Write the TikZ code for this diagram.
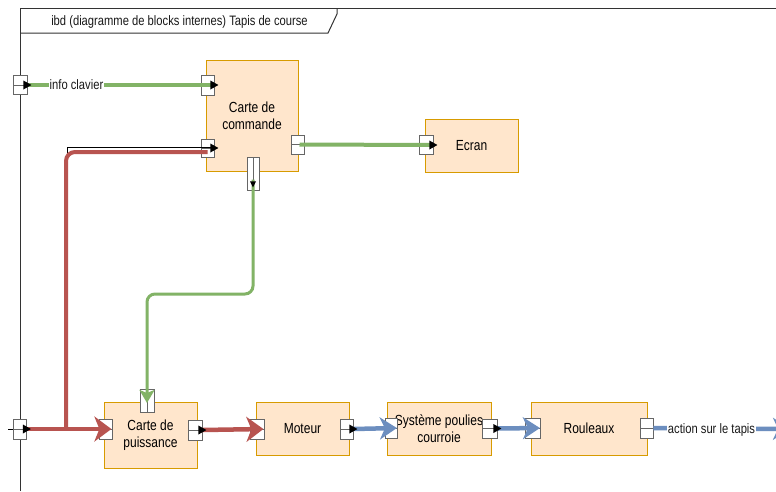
\documentclass[tikz,border=0pt]{standalone}
\usepackage{fontspec}
\setmainfont{Liberation Sans}
\usetikzlibrary{arrows.meta}
\definecolor{blkfill}{HTML}{FFE6CC}
\definecolor{blkline}{HTML}{D79B00}
\definecolor{grn}{HTML}{82B366}
\definecolor{rd}{HTML}{B85450}
\definecolor{blu}{HTML}{6C8EBF}
\definecolor{frm}{HTML}{333333}
\newcommand{\tall}[1]{\scalebox{1}[1.22]{#1}}
\begin{document}
\begin{tikzpicture}[x=1pt,y=-1pt,
  blk/.style={draw=blkline, fill=blkfill, line width=1pt, align=center, inner sep=0pt,
    font=\fontsize{12}{17.5}\selectfont, text=black},
  port/.style={draw=black!60, fill=white, line width=0.8pt, minimum width=13pt, minimum height=20pt, inner sep=0pt,
    path picture={\draw[black!60, line width=0.8pt] (path picture bounding box.west) -- (path picture bounding box.east);}},
  vport/.style={draw=black!60, fill=white, line width=0.8pt, minimum width=12pt, minimum height=33pt, inner sep=0pt,
    path picture={\draw[black!60, line width=0.8pt] (path picture bounding box.north) -- (path picture bounding box.south);}},
  lbl/.style={fill=white, inner sep=0.5pt, font=\fontsize{11.2}{13}\selectfont, text=black!90},
  gline/.style={draw=grn, line width=3.5pt},
  rline/.style={draw=rd, line width=4.5pt},
  bline/.style={draw=blu, line width=4.5pt},
  bigtip/.style={-{Stealth[length=17pt, width=25pt, inset=5pt]}},
  midtip/.style={-{Stealth[length=17pt, width=22pt, inset=5pt]}},
  smalltip/.style={-{Stealth[length=13pt, width=15pt, inset=3pt]}},
  ptip/.style={fill=black}
]
\useasboundingbox (0,0) rectangle (776,491);
\fill[white] (0,0) rectangle (776,491);
\clip (0,0) rectangle (776,491);

% frame
\coordinate (fTL) at (20,8);
\coordinate (fTR) at (776,8);
\coordinate (fBL) at (20,491);
\coordinate (tabA) at (20,33);
\coordinate (tabB) at (328,33);
\coordinate (tabC) at (337,14);
\coordinate (tabD) at (337,8);
\draw[frm, line width=1pt] (fBL) -- (fTL) -- (fTR);
\draw[frm, line width=1pt] (tabA) -- (tabB) -- (tabC) -- (tabD);
\node[font=\fontsize{11.2}{13}\selectfont, text=black!90] (hdr) at (179.5,21.5) {\tall{ibd (diagramme de blocks internes) Tapis de course}};

% blocks
\node[blk, minimum width=92pt, minimum height=111pt] (cc) at (252,116) {\tall{Carte de}\\\tall{commande}};
\node[blk, minimum width=93pt, minimum height=53pt] (ecr) at (471.5,145.5) {\tall{Ecran}};
\node[blk, minimum width=93pt, minimum height=66pt] (cp) at (150.5,435) {\tall{Carte de}\\\tall{puissance}};
\node[blk, minimum width=93pt, minimum height=53pt] (mot) at (302.5,428.5) {\tall{Moteur}};
\node[blk, minimum width=104pt, minimum height=53pt] (sys) at (439,428.5) {\tall{Système poulies}\\\tall{courroie}};
\node[blk, minimum width=116pt, minimum height=53pt] (rou) at (589,428.5) {\tall{Rouleaux}};

% ports
\node[port, minimum width=14pt, minimum height=19pt] (pf1) at (20,85) {};
\node[port] (pf2) at (20,429) {};
\node[port] (pcc1) at (207.5,85) {};
\node[port, minimum height=18pt] (pcc2) at (207.5,148) {};
\node[port, minimum height=19pt] (pcco) at (297.5,144.5) {};
\node[vport] (pccb) at (253,173.5) {};
\node[port, minimum width=14pt, minimum height=19pt] (pecr) at (426,145) {};
\node[vport, minimum width=14pt, minimum height=23pt] (pcpt) at (147,401) {};
\node[port] (pcpi) at (105.5,429) {};
\node[port, minimum width=14pt] (pcpo) at (195,430) {};
\node[port, minimum width=14pt] (pmoi) at (257,429) {};
\node[port] (pmoo) at (346.5,429) {};
\node[port, minimum width=12pt] (psyi) at (391,428) {};
\node[port, minimum width=15pt, minimum height=19pt] (psyo) at (489.5,428.5) {};
\node[port, minimum width=15pt] (proi) at (533,428) {};
\node[port] (proo) at (646.5,428) {};

% named points for connectors
\coordinate (rj) at (66,429);
\coordinate (bk) at (67,154);
\coordinate (gm) at (200,294);
\coordinate (bout) at (790,429);
\coordinate (lead) at (8,429);

% thin black connector under the red one
\draw[black, line width=0.8pt] (bk) |- ([yshift=1pt]pcc2.east);
\draw[black, line width=0.8pt] (lead) -- (pf2.west);

% green connectors
\draw[gline] (pf1.east) -- ([xshift=-2pt]pcc1.east);
\draw[gline, line width=4pt] ([xshift=2pt]pcco.center) -- ([xshift=-2pt]pecr.east);
\draw[gline, line width=3pt, rounded corners=8pt, smalltip]
  ([yshift=-6pt]pccb.center) |- (gm) -| ([yshift=-2pt]pcpt.center);

% red connectors
\draw[rline, line width=4pt, rounded corners=9pt] (rj) |- ([yshift=-4pt]pcc2.center);
\draw[rline, bigtip] (pf2.east) -- ([xshift=-1pt]pcpi.east);
\draw[rline, bigtip] (pcpo.east) -- ([xshift=-1pt]pmoi.east);

% blue connectors
\draw[bline, midtip] (pmoo.east) -- ([xshift=-0.5pt]psyi.east);
\draw[bline, midtip] (psyo.east) -- ([xshift=-1pt]proi.east);
\draw[bline, midtip] (proo.east) -- (bout);

% labels on connectors
\node[lbl] (l1) at (76.5,85) {\tall{info clavier}};
\node[lbl] (l2) at (711.5,430) {\tall{action sur le tapis}};

% small port arrows
\foreach \p in {pf1,pf2,pcc1,pcc2,pecr,pcpo,pmoo,psyo}{
  \fill[ptip] ([xshift=4pt]\p.east) -- ++(-8,-4.5) -- ++(0,9) -- cycle;
}
\fill[ptip] ([yshift=3pt]pccb.south) -- ++(-3,-6) -- ++(6,0) -- cycle;
\end{tikzpicture}
\end{document}
